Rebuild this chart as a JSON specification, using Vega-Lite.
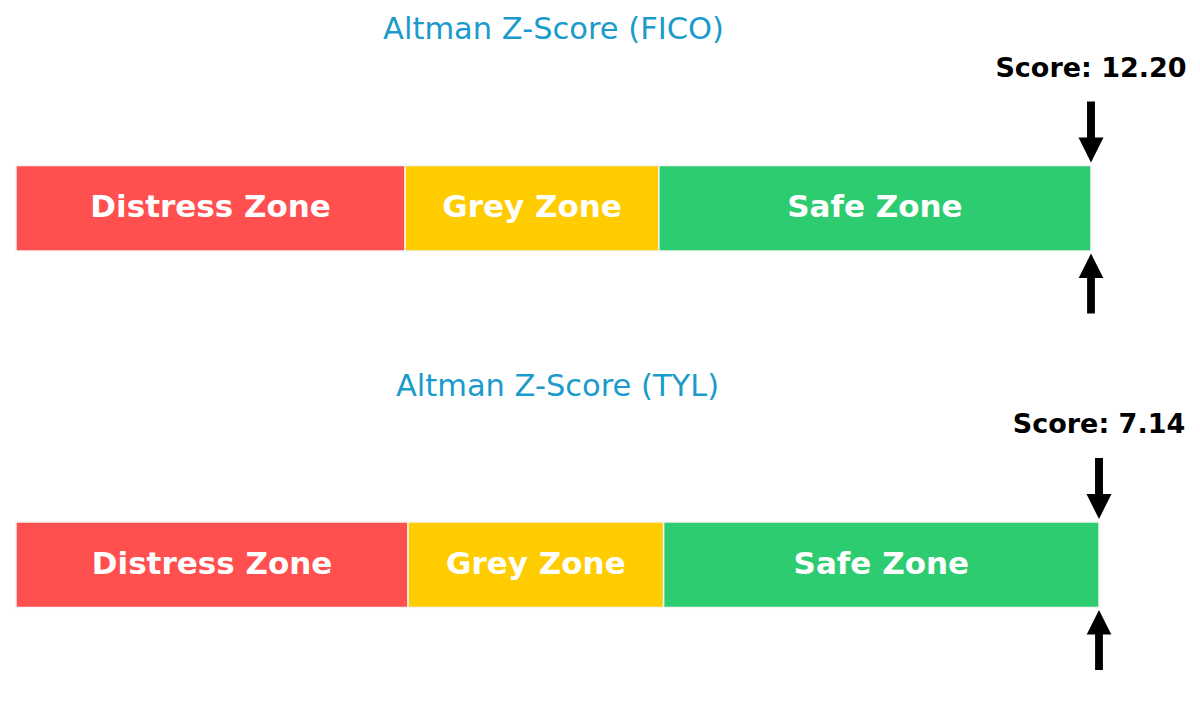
{
  "$schema": "https://vega.github.io/schema/vega-lite/v6.json",
  "padding": {"left": 15, "top": 14.5, "right": 0, "bottom": 0},
  "background": "white",
  "datasets": {
    "zones": [
      {"company": "FICO", "zone": "Distress Zone", "start": 0, "end": 1.81},
      {"company": "FICO", "zone": "Grey Zone", "start": 1.81, "end": 2.99},
      {"company": "FICO", "zone": "Safe Zone", "start": 2.99, "end": 5},
      {"company": "TYL", "zone": "Distress Zone", "start": 0, "end": 1.81},
      {"company": "TYL", "zone": "Grey Zone", "start": 1.81, "end": 2.99},
      {"company": "TYL", "zone": "Safe Zone", "start": 2.99, "end": 5}
    ],
    "scores": [
      {"company": "FICO", "score": 12.2, "label": "Score: 12.20"},
      {"company": "TYL", "score": 7.14, "label": "Score: 7.14"}
    ]
  },
  "spacing": 40.5,
  "vconcat": [
    {
      "width": 1075,
      "height": 280,
      "title": {"text": "Altman Z-Score (FICO)", "offset": 5},
      "layer": [
        {
          "data": {"name": "zones"},
          "transform": [{"filter": "datum.company == 'FICO'"}],
          "mark": {"type": "rect", "stroke": "#f4f4f4", "strokeWidth": 1.5},
          "encoding": {
            "x": {"field": "start", "type": "quantitative", "scale": {"domain": [0, 5], "clamp": true, "nice": false, "zero": true}, "axis": null},
            "x2": {"field": "end"},
            "y": {"datum": 115, "type": "quantitative", "scale": {"domain": [0, 280], "reverse": true, "nice": false}, "axis": null},
            "y2": {"datum": 200.5},
            "color": {"field": "zone", "type": "nominal", "scale": {"domain": ["Distress Zone", "Grey Zone", "Safe Zone"], "range": ["#ff4f4f", "#ffcc00", "#2ecc71"]}, "legend": null}
          }
        },
        {
          "data": {"name": "zones"},
          "transform": [
            {"filter": "datum.company == 'FICO'"},
            {"fold": ["start", "end"], "as": ["edge", "value"]},
            {"aggregate": [{"op": "mean", "field": "value", "as": "mid"}], "groupby": ["zone"]}
          ],
          "mark": {"type": "text", "color": "white", "fontSize": 31, "fontWeight": "bold", "font": "DejaVu Sans", "baseline": "middle", "align": "center"},
          "encoding": {
            "x": {"field": "mid", "type": "quantitative"},
            "y": {"datum": 157.5, "type": "quantitative"},
            "text": {"field": "zone"}
          }
        },
        {
          "data": {"name": "scores"},
          "transform": [{"filter": "datum.company == 'FICO'"}],
          "mark": {"type": "point", "filled": true, "color": "black", "opacity": 1, "size": 3721, "shape": "M-0.13,-1L0.13,-1L0.13,0.18L0.41,0.18L0,1L-0.41,0.18L-0.13,0.18Z"},
          "encoding": {
            "x": {"field": "score", "type": "quantitative"},
            "y": {"datum": 81.5, "type": "quantitative"}
          }
        },
        {
          "data": {"name": "scores"},
          "transform": [{"filter": "datum.company == 'FICO'"}],
          "mark": {"type": "point", "filled": true, "color": "black", "opacity": 1, "size": 3600, "shape": "M-0.13,1L0.13,1L0.13,-0.18L0.41,-0.18L0,-1L-0.41,-0.18L-0.13,-0.18Z"},
          "encoding": {
            "x": {"field": "score", "type": "quantitative"},
            "y": {"datum": 233, "type": "quantitative"}
          }
        },
        {
          "data": {"name": "scores"},
          "transform": [{"filter": "datum.company == 'FICO'"}],
          "mark": {"type": "text", "color": "black", "fontSize": 27, "fontWeight": "bold", "font": "DejaVu Sans", "baseline": "middle", "align": "center"},
          "encoding": {
            "x": {"field": "score", "type": "quantitative"},
            "y": {"datum": 18, "type": "quantitative"},
            "text": {"field": "label"}
          }
        }
      ]
    },
    {
      "width": 1083,
      "height": 280,
      "title": {"text": "Altman Z-Score (TYL)", "offset": 5},
      "layer": [
        {
          "data": {"name": "zones"},
          "transform": [{"filter": "datum.company == 'TYL'"}],
          "mark": {"type": "rect", "stroke": "#f4f4f4", "strokeWidth": 1.5},
          "encoding": {
            "x": {"field": "start", "type": "quantitative", "scale": {"domain": [0, 5], "clamp": true, "nice": false, "zero": true}, "axis": null},
            "x2": {"field": "end"},
            "y": {"datum": 115, "type": "quantitative", "scale": {"domain": [0, 280], "reverse": true, "nice": false}, "axis": null},
            "y2": {"datum": 200.5},
            "color": {"field": "zone", "type": "nominal", "scale": {"domain": ["Distress Zone", "Grey Zone", "Safe Zone"], "range": ["#ff4f4f", "#ffcc00", "#2ecc71"]}, "legend": null}
          }
        },
        {
          "data": {"name": "zones"},
          "transform": [
            {"filter": "datum.company == 'TYL'"},
            {"fold": ["start", "end"], "as": ["edge", "value"]},
            {"aggregate": [{"op": "mean", "field": "value", "as": "mid"}], "groupby": ["zone"]}
          ],
          "mark": {"type": "text", "color": "white", "fontSize": 31, "fontWeight": "bold", "font": "DejaVu Sans", "baseline": "middle", "align": "center"},
          "encoding": {
            "x": {"field": "mid", "type": "quantitative"},
            "y": {"datum": 157.5, "type": "quantitative"},
            "text": {"field": "zone"}
          }
        },
        {
          "data": {"name": "scores"},
          "transform": [{"filter": "datum.company == 'TYL'"}],
          "mark": {"type": "point", "filled": true, "color": "black", "opacity": 1, "size": 3721, "shape": "M-0.13,-1L0.13,-1L0.13,0.18L0.41,0.18L0,1L-0.41,0.18L-0.13,0.18Z"},
          "encoding": {
            "x": {"field": "score", "type": "quantitative"},
            "y": {"datum": 81.5, "type": "quantitative"}
          }
        },
        {
          "data": {"name": "scores"},
          "transform": [{"filter": "datum.company == 'TYL'"}],
          "mark": {"type": "point", "filled": true, "color": "black", "opacity": 1, "size": 3600, "shape": "M-0.13,1L0.13,1L0.13,-0.18L0.41,-0.18L0,-1L-0.41,-0.18L-0.13,-0.18Z"},
          "encoding": {
            "x": {"field": "score", "type": "quantitative"},
            "y": {"datum": 233, "type": "quantitative"}
          }
        },
        {
          "data": {"name": "scores"},
          "transform": [{"filter": "datum.company == 'TYL'"}],
          "mark": {"type": "text", "color": "black", "fontSize": 27, "fontWeight": "bold", "font": "DejaVu Sans", "baseline": "middle", "align": "center"},
          "encoding": {
            "x": {"field": "score", "type": "quantitative"},
            "y": {"datum": 18, "type": "quantitative"},
            "text": {"field": "label"}
          }
        }
      ]
    }
  ],
  "config": {
    "view": {"stroke": null},
    "title": {"font": "DejaVu Sans", "fontSize": 30.5, "fontWeight": "normal", "color": "#1b9bcb", "anchor": "middle"}
  }
}
